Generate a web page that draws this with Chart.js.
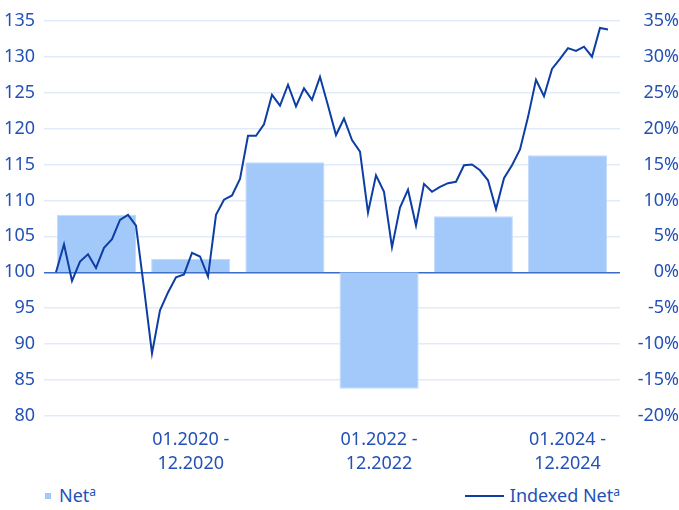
<!DOCTYPE html>
<html>
<head>
<meta charset="utf-8">
<script src="https://cdn.jsdelivr.net/npm/chart.js@4.4.1/dist/chart.umd.min.js"></script>
<style>
body{margin:0;background:#fff;font-family:"Noto Sans",sans-serif;}
#wrap{position:relative;width:679px;height:480px;}
.legend{position:relative;width:679px;height:30px;color:#2451b7;font-size:18px;}
.legend .item{position:absolute;top:4px;line-height:22px;white-space:nowrap;}
.legend .left{left:45px;}
.legend .right{right:59px;}
.sq{display:inline-block;width:6px;height:6px;background:#a3c9fa;margin-right:8px;vertical-align:middle;position:relative;top:-1px;}
.ln{display:inline-block;width:39px;height:2px;background:#0d3ea3;margin-right:6px;vertical-align:middle;position:relative;top:-1px;}
sup{font-size:12px;vertical-align:6px;line-height:0;}
</style>
</head>
<body>
<div id="wrap"><canvas id="c"></canvas></div>
<div class="legend">
  <div class="item left"><span class="sq"></span>Net<sup>a</sup></div>
  <div class="item right"><span class="ln"></span>Indexed Net<sup>a</sup></div>
</div>
<script>
/* ===== DATA ===== */
const years=["2019","2020","2021","2022","2023","2024"];
const labelYears=[1,3,5];           // which bars get a period label
const netPct=[8.0,1.85,15.3,-16.2,7.8,16.3];
const indexedNet=[
  100.0,103.9,98.8,101.5,102.5,100.6,103.4,104.6,107.3,108.0,
  106.5,97.8,88.7,94.7,97.2,99.3,99.7,102.7,102.2,99.4,
  108.0,110.1,110.7,113.0,119.0,119.0,120.6,124.7,123.2,126.1,
  123.1,125.6,124.0,127.2,123.2,119.1,121.4,118.4,116.8,108.3,
  113.5,111.2,103.5,109.0,111.5,106.5,112.3,111.2,111.9,112.4,
  112.6,114.9,115.0,114.2,112.8,108.8,113.1,114.9,117.1,121.6,
  126.8,124.5,128.3,129.7,131.2,130.8,131.4,130.0,134.0,133.8
];
const leftMin=80, leftMax=135;
const rightMin=-20, rightMax=35;

/* ===== STYLE ===== */
const TXT="#2451b7", LINE="#0d3ea3", BAR="#a3c9fa";
const GRID="#e1ebfa", ZERO="#3a6bc9";
const FONT={family:"'Noto Sans',sans-serif",size:18};

new Chart(document.getElementById("c"),{
  data:{datasets:[
    {type:"line",label:"Indexed Net",order:0,xAxisID:"x2",yAxisID:"y",
     data:indexedNet.map((v,i)=>({x:i,y:v})),
     borderColor:LINE,borderWidth:2,pointRadius:0,tension:0,fill:false},
    {type:"bar",label:"Net",order:1,xAxisID:"x",yAxisID:"y1",grouped:false,
     data:netPct.map((v,i)=>({x:i,y:v})),
     backgroundColor:BAR,borderColor:"#c3dafb",borderWidth:1,
     barPercentage:0.84,categoryPercentage:1}
  ]},
  options:{
    responsive:true,maintainAspectRatio:false,animation:false,
    layout:{padding:{top:16,left:0,right:0,bottom:0}},
    plugins:{legend:{display:false},tooltip:{enabled:false}},
    scales:{
      x:{type:"linear",position:"bottom",min:-0.557,max:5.557,offset:false,
        grid:{display:false,drawTicks:false},border:{display:false},
        afterBuildTicks:s=>{s.ticks=labelYears.map(v=>({value:v}))},
        afterFit:s=>{s.height=64},
        ticks:{color:TXT,font:{...FONT,lineHeight:1.33},padding:12,maxRotation:0,
          callback:v=>["01."+years[v]+" -","12."+years[v]]}},
      x2:{type:"linear",display:false,offset:false,min:-1.5,max:70.5},
      y:{position:"left",min:leftMin,max:leftMax,
        border:{display:false},
        grid:{drawTicks:false,lineWidth:1.5,color:c=>c.tick.value===100?ZERO:GRID},
        afterFit:s=>{s.width=44},
        ticks:{stepSize:5,color:TXT,font:FONT,padding:9}},
      y1:{position:"right",min:rightMin,max:rightMax,
        border:{display:false},grid:{display:false,drawTicks:false},
        afterFit:s=>{s.width=59},
        ticks:{stepSize:5,color:TXT,font:FONT,padding:10,crossAlign:"far",
          callback:v=>v+"%"}}
    }
  }
});
</script>
</body>
</html>
